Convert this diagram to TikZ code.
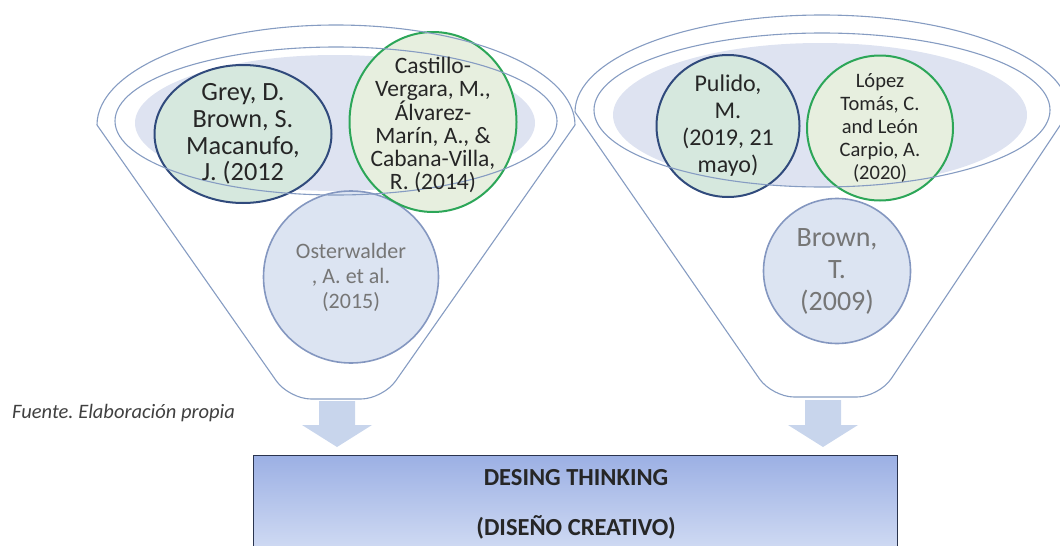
\documentclass[tikz,border=0pt]{standalone}
\usepackage{fontspec}
\setmainfont{Carlito}
\usetikzlibrary{shapes.geometric}
\frenchspacing

\definecolor{rimline}{RGB}{134,156,194}
\definecolor{rimfill}{RGB}{222,227,241}
\definecolor{navyline}{RGB}{48,74,124}
\definecolor{leafline}{RGB}{44,166,88}
\definecolor{paleline}{RGB}{132,151,192}
\definecolor{mintfill}{RGB}{214,232,222}
\definecolor{creamfill}{RGB}{231,239,223}
\definecolor{icefill}{RGB}{220,228,242}
\definecolor{arrowfill}{RGB}{200,213,236}
\definecolor{darktext}{RGB}{38,38,38}
\definecolor{graytext}{RGB}{118,118,118}
\definecolor{boxtop}{RGB}{156,176,228}
\definecolor{boxbot}{RGB}{222,230,247}
\definecolor{boxline}{RGB}{42,52,78}

\tikzset{
	rim/.style={draw=rimline, line width=1.1pt},
	refshape/.style={ellipse, inner sep=0pt, line width=2pt},
	refnavy/.style={refshape, draw=navyline, fill=mintfill},
	refgreen/.style={refshape, draw=leafline, fill=creamfill},
	reflow/.style={refshape, draw=paleline, fill=icefill, line width=1.6pt},
	reftext/.style={align=center, inner sep=0pt, text=darktext},
}

\begin{document}
\begin{tikzpicture}[x=1pt, y=-1pt]
	\useasboundingbox (0,0) rectangle (1060,546);
	% rims filled
	\fill[rimfill] (335,123) ellipse [x radius=200pt, y radius=68pt];
	\fill[rimfill] (820,115) ellipse [x radius=207pt, y radius=72pt];
	% lower references
	\node[reflow, minimum width=175, minimum height=172] (oster) at (351,277) {};
	\node[reflow, minimum width=147, minimum height=145] (brownt) at (837,271) {};
	% upper references
	\node[refnavy, minimum width=177, minimum height=138] (grey) at (243,134) {};
	\node[refgreen, minimum width=167, minimum height=180] (castillo) at (433,122) {};
	\node[refnavy, minimum width=143, minimum height=142] (pulido) at (728,126) {};
	\node[refgreen, minimum width=146, minimum height=145] (lopez) at (880,128) {};
	% funnels
	\draw[rim, rounded corners=22] (575,125) -- (383,399) -- (289,399) -- (97,125);
	\draw[rim] (97,125) arc[start angle=180, end angle=0, x radius=239pt, y radius=100pt];
	\draw[rim] (336,121) ellipse [x radius=221pt, y radius=74pt];
	\draw[rim, rounded corners=22] (1069,112) -- (879,397) -- (772,397) -- (575,112);
	\draw[rim] (575,112) arc[start angle=180, end angle=0, x radius=247pt, y radius=97pt];
	\draw[rim] (822,110) ellipse [x radius=228pt, y radius=77pt];
	% texts
	\node[reftext, font=\fontsize{26.3}{26.7}\selectfont] (greytxt) at (grey) {Grey, D.\\Brown, S.\\Macanufo,\\J. (2012};
	\node[reftext, font=\fontsize{23.5}{23}\selectfont] (castillotxt) at ([yshift=-3pt]castillo) {Castillo-\\Vergara, M.,\\Álvarez-\\Marín, A., \&\\Cabana-Villa,\\R. (2014)};
	\node[reftext, text=graytext, font=\fontsize{22}{25}\selectfont] (ostertxt) at (oster) {Osterwalder\\, A. et al.\\(2015)};
	\node[reftext, font=\fontsize{24}{27}\selectfont] (pulidotxt) at (pulido) {Pulido,\\M.\\(2019, 21\\mayo)};
	\node[reftext, font=\fontsize{20.5}{23}\selectfont] (lopeztxt) at (lopez) {López\\Tomás, C.\\and León\\Carpio, A.\\(2020)};
	\node[reftext, text=graytext, font=\fontsize{28}{32}\selectfont] (browntxt) at (brownt) {Brown,\\T.\\(2009)};
	% arrows
	\fill[arrowfill] (319,401) -- (355,401) -- (355,425) -- (372,425) -- (337,447) -- (302,425) -- (319,425) -- cycle;
	\fill[arrowfill] (805,400) -- (841,400) -- (841,425) -- (858,425) -- (823,447) -- (788,425) -- (805,425) -- cycle;
	% result box
	\node[anchor=north west, minimum width=644, minimum height=120, inner sep=0pt, draw=boxline, line width=1.3pt, top color=boxtop, bottom color=boxbot] (dtbox) at (253,455) {};
	\node[font=\bfseries\fontsize{24.5}{28}\selectfont, text=darktext] (dtname) at (576,478) {DESING THINKING};
	\node[font=\bfseries\fontsize{24.5}{28}\selectfont, text=darktext] (dtsub) at (576,527) {(DISEÑO CREATIVO)};
	\node[anchor=west, inner sep=0pt, font=\itshape\fontsize{20.5}{24}\selectfont, text=black!75] (fuente) at (12,413) {Fuente. Elaboración propia};
\end{tikzpicture}
\end{document}
